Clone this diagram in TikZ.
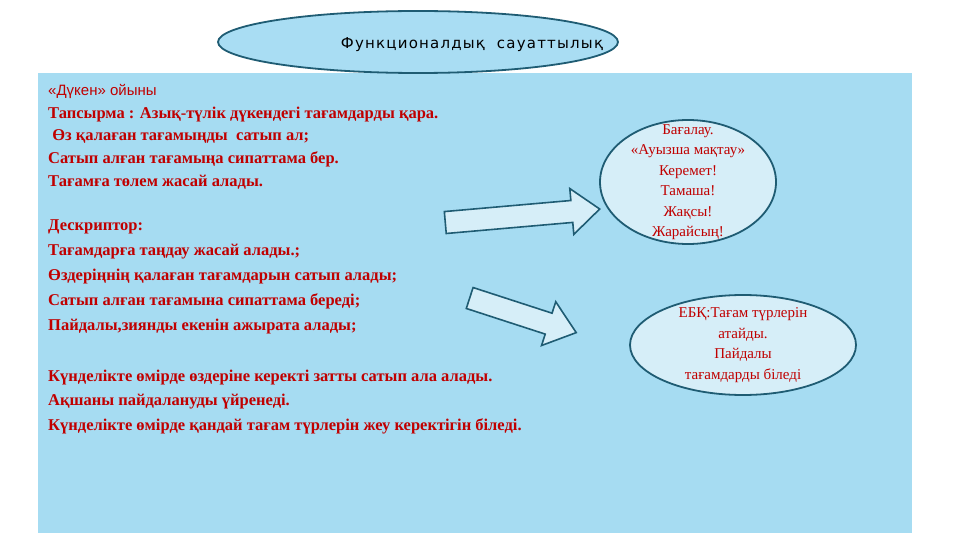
\documentclass[tikz,border=0pt]{standalone}
\usepackage{fontspec}
\setmainfont{Liberation Serif}
\newfontfamily\sansf{Liberation Sans}
\newfontfamily\titlef[LetterSpace=8]{DejaVu Sans}
\usetikzlibrary{shapes.geometric}
\definecolor{bgblue}{HTML}{A6DCF2}
\definecolor{titfill}{HTML}{A9DDF3}
\definecolor{ellfill}{HTML}{D6EEF8}
\definecolor{edge}{HTML}{1F5C73}
\definecolor{txtred}{HTML}{C00000}
\tikzset{
  ell/.style={ellipse, draw=edge, line width=1.8pt, fill=ellfill, inner sep=0pt},
  line/.style={anchor=base west, text=txtred, font=\fontsize{16.5}{16.5}\selectfont\bfseries, inner sep=0pt},
  etext/.style={text=txtred, align=center, font=\fontsize{15}{20.5}\selectfont},
  barrow/.style={draw=edge, line width=1.6pt, fill=ellfill, line join=miter}
}
\begin{document}
\begin{tikzpicture}[x=1pt,y=-1pt]
\useasboundingbox (0,0) rectangle (960,540);
\fill[white] (0,0) rectangle (960,540);
\fill[bgblue] (38,73) rectangle (912,533);
\node[ell, fill=titfill, minimum width=400, minimum height=62] (title) at (418,42) {};
\node[font=\titlef\fontsize{15}{15}\selectfont, text=black] (tt) at (472,45) {Функционалдық\ \ сауаттылық};
\node[line, font=\sansf\fontsize{15}{15}\selectfont] (l0) at (48,96) {«Дүкен» ойыны};
\node[line] (l1) at (48,119) {Тапсырма : Азық-түлік дүкендегі тағамдарды қара.};
\node[line] (l2) at (48,141) {\ Өз қалаған тағамыңды\ \ сатып ал;};
\node[line] (l3) at (48,164) {Сатып алған тағамыңа сипаттама бер.};
\node[line] (l4) at (48,186) {Тағамға төлем жасай алады.};
\node[line] (l5) at (48,230) {Дескриптор:};
\node[line] (l6) at (48,255) {Тағамдарға таңдау жасай алады.;};
\node[line] (l7) at (48,280) {Өздеріңнің қалаған тағамдарын сатып алады;};
\node[line] (l8) at (48,305) {Сатып алған тағамына сипаттама береді;};
\node[line] (l9) at (48,330) {Пайдалы,зиянды екенін ажырата алады;};
\node[line] (l10) at (48,381) {Күнделікте өмірде өздеріне керекті затты сатып ала алады.};
\node[line] (l11) at (48,405) {Ақшаны пайдалануды үйренеді.};
\node[line] (l12) at (48,430) {Күнделікте өмірде қандай тағам түрлерін жеу керектігін біледі.};
\node[ell, minimum width=176, minimum height=124] (e1) at (688,182) {};
\node[etext] (e1t) at (688,182) {Бағалау.\\«Ауызша мақтау»\\Керемет!\\Тамаша!\\Жақсы!\\Жарайсың!};
\node[ell, minimum width=226, minimum height=100] (e2) at (743,345) {};
\node[etext] (e2t) at (743,345) {ЕБҚ:Тағам түрлерін\\атайды.\\Пайдалы\\тағамдарды біледі};
\begin{scope}[shift={(520,216)}, rotate=5]
\draw[barrow] (-75,-11) -- (52,-11) -- (52,-23) -- (80,0) -- (52,23) -- (52,11) -- (-75,11) -- cycle;
\end{scope}
\begin{scope}[shift={(522,315)}, rotate=-18]
\draw[barrow] (-55,-11) -- (28,-11) -- (28,-23) -- (57,0) -- (28,23) -- (28,11) -- (-55,11) -- cycle;
\end{scope}
\end{tikzpicture}
\end{document}
